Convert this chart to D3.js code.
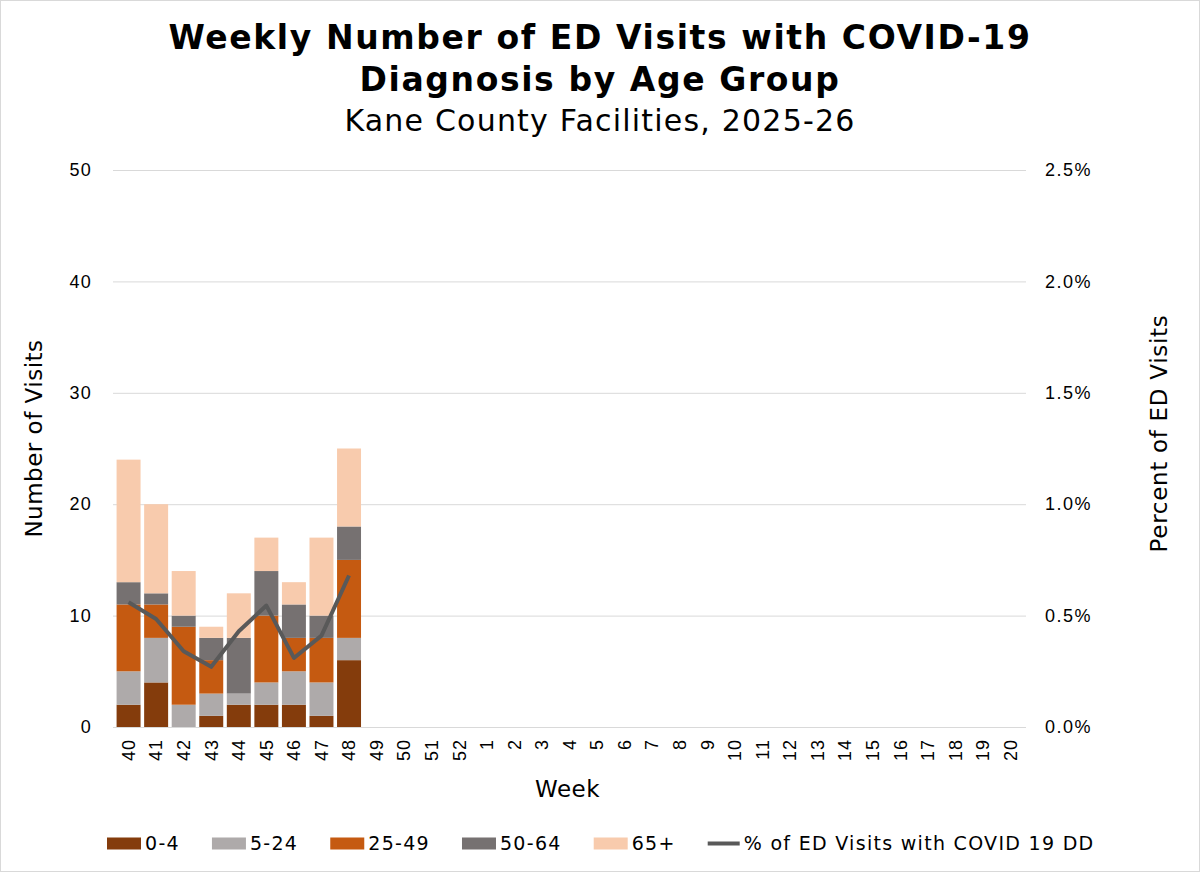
<!DOCTYPE html>
<meta charset="utf-8">
<script src="https://cdn.jsdelivr.net/npm/d3@7"></script>
<style>
body { margin: 0; background: #fff; }
svg { font-family: "DejaVu Sans", Verdana, sans-serif; }
.grid line { stroke: #d9d9d9; }
.axis path, .axis line { stroke: none; }
.axis text { fill: #000; }
</style>
<body>
<script>

// Data
var weeks = ["40","41","42","43","44","45","46","47","48","49","50","51","52",
             "1","2","3","4","5","6","7","8","9","10","11","12","13","14","15",
             "16","17","18","19","20"];
var ageGroups = ["0-4", "5-24", "25-49", "50-64", "65+"];
var age0_4   = [2, 4, 0, 1, 2, 2, 2, 1, 6];
var age5_24  = [3, 4, 2, 2, 1, 2, 3, 3, 2];
var age25_49 = [6, 3, 7, 3, 0, 6, 3, 4, 7];
var age50_64 = [2, 1, 1, 2, 5, 4, 3, 2, 3];
var age65    = [11, 8, 4, 1, 4, 3, 2, 7, 7];
var pctCovid = [0.56, 0.485, 0.34, 0.27, 0.43, 0.545, 0.31, 0.41, 0.68];
var leftTicks = [0, 10, 20, 30, 40, 50];
var rightTicks = [0, 0.5, 1.0, 1.5, 2.0, 2.5];
var colors = ["#843c0c", "#aeaaaa", "#c55a11", "#767171", "#f8cbad"];
var lineColor = "#595959";

var W = 1200, H = 872;
var margin = {top: 170, right: 174, bottom: 145, left: 113};
var width = W - margin.left - margin.right,
    height = H - margin.top - margin.bottom;

var svg = d3.select("body").append("svg")
  .attr("width", W)
  .attr("height", H);

// outer border
svg.append("rect")
  .attr("x", 0.5).attr("y", 0.5)
  .attr("width", W - 1).attr("height", H - 1)
  .attr("fill", "#fff")
  .attr("stroke", "#d9d9d9");

var g = svg.append("g")
  .attr("transform", "translate(" + margin.left + "," + margin.top + ")");

// rows for stacking
var rows = age0_4.map(function(d, i) {
  return {week: weeks[i], "0-4": age0_4[i], "5-24": age5_24[i],
          "25-49": age25_49[i], "50-64": age50_64[i], "65+": age65[i]};
});
var stacked = d3.stack().keys(ageGroups)(rows);

var x = d3.scaleBand().domain(weeks).range([0, width]).padding(0.13);
var y = d3.scaleLinear().domain([0, 50]).range([height, 0]);
var y2 = d3.scaleLinear().domain([0, 2.5]).range([height, 0]);

// gridlines
g.append("g").attr("class", "grid")
  .selectAll("line").data(leftTicks).enter().append("line")
  .attr("x1", 0).attr("x2", width)
  .attr("y1", function(d) { return y(d) + 0.5; })
  .attr("y2", function(d) { return y(d) + 0.5; });

// bars
g.selectAll(".series")
  .data(stacked)
  .enter().append("g")
  .attr("class", "series")
  .attr("fill", function(d, i) { return colors[i]; })
  .selectAll("rect")
  .data(function(d) { return d; })
  .enter().append("rect")
  .attr("x", function(d) { return x(d.data.week); })
  .attr("y", function(d) { return y(d[1]); })
  .attr("width", x.bandwidth())
  .attr("height", function(d) { return y(d[0]) - y(d[1]); });

// percent line
var line = d3.line()
  .x(function(d, i) { return x(weeks[i]) + x.bandwidth() / 2; })
  .y(function(d) { return y2(d); });

g.append("path")
  .datum(pctCovid)
  .attr("fill", "none")
  .attr("stroke", lineColor)
  .attr("stroke-width", 4)
  .attr("stroke-linejoin", "round")
  .attr("d", line);

// axes
g.append("g")
  .attr("class", "axis")
  .call(d3.axisLeft(y).tickValues(leftTicks).tickSize(0).tickPadding(21))
  .selectAll("text")
  .attr("font-size", "18px")
  .attr("letter-spacing", "1.3px");

g.append("g")
  .attr("class", "axis")
  .attr("transform", "translate(" + width + ",0)")
  .call(d3.axisRight(y2).tickValues(rightTicks).tickSize(0).tickPadding(19)
    .tickFormat(function(d) { return d.toFixed(1) + "%"; }))
  .selectAll("text")
  .attr("font-size", "18px")
  .attr("letter-spacing", "1.5px");

g.append("g")
  .attr("class", "axis")
  .attr("transform", "translate(0," + height + ")")
  .call(d3.axisBottom(x).tickSize(0))
  .selectAll("text")
  .attr("font-size", "18px")
  .attr("letter-spacing", "1px")
  .attr("transform", "rotate(-90)")
  .attr("text-anchor", "end")
  .attr("x", -12)
  .attr("y", 0)
  .attr("dy", "0.35em");

// axis titles
g.append("text")
  .text("Number of Visits")
  .attr("transform", "translate(" + (-margin.left + 42) + "," + (height / 2 - 10) + ") rotate(-90)")
  .attr("text-anchor", "middle")
  .attr("font-size", "23px")
  .attr("letter-spacing", "0.5px");

g.append("text")
  .text("Percent of ED Visits")
  .attr("transform", "translate(" + (width + 141) + "," + (height / 2 - 15) + ") rotate(-90)")
  .attr("text-anchor", "middle")
  .attr("font-size", "23px")
  .attr("letter-spacing", "0.7px");

g.append("text")
  .text("Week")
  .attr("x", width / 2 - 2)
  .attr("y", height + 70)
  .attr("text-anchor", "middle")
  .attr("font-size", "23px")
  .attr("letter-spacing", "0.5px");

// titles
svg.append("text")
  .text("Weekly Number of ED Visits with COVID-19")
  .attr("x", W / 2).attr("y", 49)
  .attr("text-anchor", "middle")
  .attr("font-weight", "bold")
  .attr("font-size", "33px")
  .attr("letter-spacing", "1.6px");

svg.append("text")
  .text("Diagnosis by Age Group")
  .attr("x", W / 2).attr("y", 91)
  .attr("text-anchor", "middle")
  .attr("font-weight", "bold")
  .attr("font-size", "33px")
  .attr("letter-spacing", "1.6px");

svg.append("text")
  .text("Kane County Facilities, 2025-26")
  .attr("x", W / 2).attr("y", 131)
  .attr("text-anchor", "middle")
  .attr("font-size", "30px")
  .attr("letter-spacing", "1.2px");

// legend
var legendItems = ageGroups.map(function(d, i) { return {label: d, color: colors[i], type: "rect"}; });
legendItems.push({label: "% of ED Visits with COVID 19 DD", color: lineColor, type: "line"});

var legend = svg.append("g").attr("transform", "translate(0,843.5)");
var lx = 107;
legendItems.forEach(function(item) {
  var it = legend.append("g").attr("transform", "translate(" + lx + ",0)");
  var markW;
  if (item.type === "rect") {
    markW = 34;
    it.append("rect")
      .attr("x", 0).attr("y", -6)
      .attr("width", markW).attr("height", 12)
      .attr("fill", item.color);
  } else {
    markW = 32;
    it.append("line")
      .attr("x1", 0).attr("x2", markW)
      .attr("y1", 0).attr("y2", 0)
      .attr("stroke", item.color)
      .attr("stroke-width", 4);
  }
  var t = it.append("text")
    .text(item.label)
    .attr("x", markW + 4)
    .attr("dy", "0.35em")
    .attr("font-size", "19px")
    .attr("letter-spacing", "1.3px");
  lx += markW + 4 + t.node().getComputedTextLength() + 32;
});

</script>
</body>
</html>
